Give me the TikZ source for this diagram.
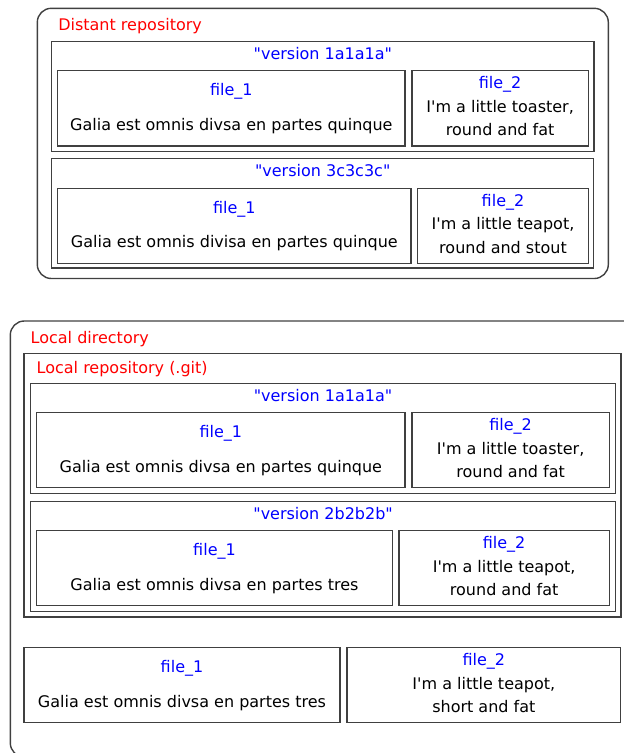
\documentclass[tikz,border=0pt]{standalone}
\usepackage{fontspec}
\setmainfont{DejaVu Sans}
\usetikzlibrary{calc}

% A framed box given by its name and two corners (x1,y1) (x2,y2)
\newcommand\mkbox[6]{%
  \node[#1, anchor=north west, minimum width={#5-#3}, minimum height={#6-#4}] (#2) at (#3,#4) {};}
% Version title in a version frame
\newcommand\vtitle[2]{\node[ttl] (#1-n) at ($(#1.north)+(0,18)$) {\textquotedbl#2\textquotedbl};}
% File box with a name and a one-line content
\newcommand\fileone[3]{%
  \node[ttl] (#1-n) at ($(#1.north)+(0,25)$) {#2};
  \node[bodytxt] (#1-t) at ($(#1.north)+(0,59.5)$) {#3};}
% File box with a name and a two-line content
\newcommand\filetwo[4]{%
  \node[ttl] (#1-n) at ($(#1.north)+(0,18)$) {#2};
  \node[bodytxt] (#1-t1) at ($(#1.north)+(0,41.5)$) {#3};
  \node[bodytxt] (#1-t2) at ($(#1.north)+(0,65)$) {#4};}

\begin{document}
\begin{tikzpicture}[x=1pt,y=-1pt,
  frame/.style={draw=black!75, line width=1.4pt, rectangle, inner sep=0pt, outer sep=0pt},
  roundframe/.style={frame, rounded corners=14pt},
  txt/.style={inner sep=0pt, outer sep=0pt, font=\fontsize{16}{19}\selectfont},
  lbl/.style={txt, text=red, anchor=base west},
  ttl/.style={txt, text=blue, anchor=base},
  bodytxt/.style={txt, text=black, anchor=base}]
\useasboundingbox (0,0) rectangle (624,753);
\clip (0,0) rectangle (624,753);

% ---- distant repository ----
\mkbox{roundframe}{dr}{37.3}{8.3}{608.3}{278.5}
\node[lbl] (dr-l) at ($(dr.north west)+(21,22)$) {Distant repository};

\mkbox{frame}{dv1}{51.7}{41.7}{594}{151.7}
\vtitle{dv1}{version 1a1a1a}
\mkbox{frame}{dv1a}{57.7}{70.7}{405}{146}
\fileone{dv1a}{file\_1}{Galia est omnis divsa en partes quinque}
\mkbox{frame}{dv1b}{412}{70.7}{588.3}{146}
\filetwo{dv1b}{file\_2}{I\textquotesingle m a little toaster,}{round and fat}

\mkbox{frame}{dv3}{51.7}{158.3}{593.7}{268}
\vtitle{dv3}{version 3c3c3c}
\mkbox{frame}{dv3a}{57.7}{188.3}{411}{263.3}
\fileone{dv3a}{file\_1}{Galia est omnis divisa en partes quinque}
\mkbox{frame}{dv3b}{417.7}{188.3}{588.3}{263.3}
\filetwo{dv3b}{file\_2}{I\textquotesingle m a little teapot,}{round and stout}

% ---- local directory ----
\mkbox{roundframe}{ld}{10.3}{321}{660}{757}
\node[lbl] (ld-l) at ($(ld.north west)+(20.4,22.3)$) {Local directory};

\mkbox{frame}{lr}{24}{353.3}{621}{617}
\node[lbl] (lr-l) at ($(lr.north west)+(12.7,20)$) {Local repository (.git)};

\mkbox{frame}{lv1}{30.7}{383.3}{615.3}{493.5}
\vtitle{lv1}{version 1a1a1a}
\mkbox{frame}{lv1a}{36.7}{412.7}{405}{487.3}
\fileone{lv1a}{file\_1}{Galia est omnis divsa en partes quinque}
\mkbox{frame}{lv1b}{412}{412.7}{609.3}{487.3}
\filetwo{lv1b}{file\_2}{I\textquotesingle m a little toaster,}{round and fat}

\mkbox{frame}{lv2}{30.7}{501.3}{615.5}{611.7}
\vtitle{lv2}{version 2b2b2b}
\mkbox{frame}{lv2a}{36.7}{530.7}{392.3}{605.5}
\fileone{lv2a}{file\_1}{Galia est omnis divsa en partes tres}
\mkbox{frame}{lv2b}{399}{530.7}{609.3}{605.5}
\filetwo{lv2b}{file\_2}{I\textquotesingle m a little teapot,}{round and fat}

% working copy
\mkbox{frame}{wa}{24}{647.7}{340}{722.7}
\fileone{wa}{file\_1}{Galia est omnis divsa en partes tres}
\mkbox{frame}{wb}{347}{647.7}{620.7}{722.7}
\filetwo{wb}{file\_2}{I\textquotesingle m a little teapot,}{short and fat}
\end{tikzpicture}
\end{document}
